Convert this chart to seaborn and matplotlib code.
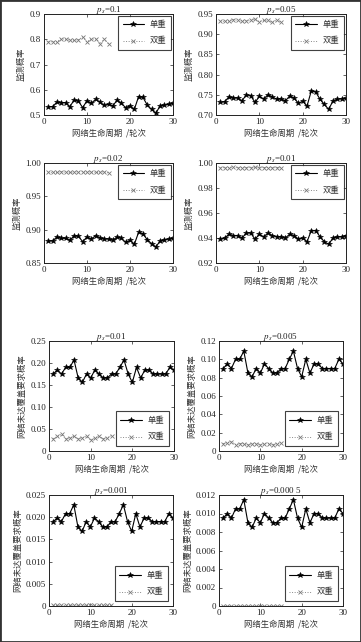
import matplotlib
matplotlib.use("Agg")
import matplotlib.pyplot as plt
import seaborn as sns
import pandas as pd
from matplotlib.font_manager import FontProperties
from matplotlib.patches import Rectangle

# ---------------- data ----------------
rounds_single = [1, 2, 3, 4, 5, 6, 7, 8, 9, 10, 11, 12, 13, 14, 15,
                 16, 17, 18, 19, 20, 21, 22, 23, 24, 25, 26, 27, 28, 29, 30]
rounds_double = [1, 2, 3, 4, 5, 6, 7, 8, 9, 10, 11, 12, 13, 14, 15]

titles = ["$p_s$=0.1", "$p_s$=0.05", "$p_s$=0.02", "$p_s$=0.01",
          "$p_s$=0.01", "$p_s$=0.005", "$p_s$=0.001", "$p_s$=0.000 5"]

single_01 = [0.533, 0.533, 0.551, 0.549, 0.549, 0.533, 0.559, 0.555, 0.529, 0.557,
             0.546, 0.562, 0.551, 0.538, 0.542, 0.536, 0.559, 0.546, 0.529, 0.536,
             0.522, 0.573, 0.570, 0.540, 0.522, 0.507, 0.536, 0.540, 0.542, 0.546]
double_01 = [0.790, 0.790, 0.790, 0.802, 0.800, 0.796, 0.796, 0.798, 0.808, 0.790,
             0.800, 0.802, 0.782, 0.800, 0.782]

single_005 = [0.731, 0.733, 0.745, 0.742, 0.742, 0.735, 0.750, 0.748, 0.731, 0.746,
              0.740, 0.750, 0.745, 0.739, 0.740, 0.735, 0.747, 0.742, 0.729, 0.734,
              0.722, 0.760, 0.757, 0.739, 0.726, 0.714, 0.735, 0.739, 0.740, 0.741]
double_005 = [0.932, 0.932, 0.933, 0.936, 0.934, 0.933, 0.933, 0.934, 0.937, 0.931,
              0.934, 0.934, 0.929, 0.935, 0.930]

single_002 = [0.883, 0.883, 0.889, 0.887, 0.887, 0.884, 0.891, 0.890, 0.882, 0.889,
              0.886, 0.891, 0.888, 0.886, 0.886, 0.884, 0.889, 0.887, 0.881, 0.884,
              0.878, 0.896, 0.894, 0.885, 0.879, 0.874, 0.883, 0.885, 0.886, 0.887]
double_002 = [0.986, 0.986, 0.986, 0.987, 0.986, 0.986, 0.986, 0.987, 0.987, 0.986,
              0.987, 0.986, 0.986, 0.987, 0.985]

single_001 = [0.939, 0.940, 0.943, 0.942, 0.942, 0.940, 0.944, 0.944, 0.939, 0.943,
              0.941, 0.944, 0.942, 0.941, 0.941, 0.940, 0.943, 0.942, 0.939, 0.940,
              0.937, 0.946, 0.946, 0.941, 0.937, 0.935, 0.940, 0.941, 0.941, 0.942]
double_001 = [0.9963, 0.9963, 0.9963, 0.9965, 0.9963, 0.9963, 0.9963, 0.9964, 0.9966, 0.9963,
              0.9964, 0.9964, 0.9962, 0.9964, 0.9962]

miss_single_001 = [0.175, 0.184, 0.175, 0.190, 0.190, 0.207, 0.166, 0.156, 0.175, 0.166,
                   0.184, 0.175, 0.166, 0.166, 0.175, 0.175, 0.190, 0.207, 0.175, 0.156,
                   0.190, 0.166, 0.184, 0.184, 0.175, 0.175, 0.175, 0.175, 0.190, 0.184]
miss_double_001 = [0.028, 0.033, 0.038, 0.028, 0.030, 0.033, 0.028, 0.030, 0.033, 0.025,
                   0.030, 0.033, 0.028, 0.030, 0.035]

miss_single_0005 = [0.090, 0.095, 0.090, 0.100, 0.100, 0.109, 0.085, 0.081, 0.090, 0.085,
                    0.095, 0.090, 0.085, 0.085, 0.090, 0.090, 0.100, 0.109, 0.090, 0.081,
                    0.100, 0.085, 0.095, 0.095, 0.090, 0.090, 0.090, 0.090, 0.100, 0.095]
miss_double_0005 = [0.008, 0.009, 0.010, 0.007, 0.008, 0.008, 0.007, 0.008, 0.008, 0.007,
                    0.008, 0.008, 0.007, 0.008, 0.009]

miss_single_0001 = [0.0190, 0.0198, 0.0190, 0.0208, 0.0208, 0.0228, 0.0178, 0.0168, 0.0190, 0.0178,
                    0.0198, 0.0190, 0.0178, 0.0178, 0.0190, 0.0190, 0.0208, 0.0228, 0.0190, 0.0168,
                    0.0208, 0.0178, 0.0198, 0.0198, 0.0190, 0.0190, 0.0190, 0.0190, 0.0208, 0.0198]
miss_double_0001 = [0.0003, 0.0003, 0.0003, 0.0003, 0.0003, 0.0003, 0.0003, 0.0003, 0.0003, 0.0003,
                    0.0003, 0.0003, 0.0003, 0.0003, 0.0003]

miss_single_00005 = [0.0095, 0.0100, 0.0095, 0.0105, 0.0105, 0.0115, 0.0090, 0.0085, 0.0095, 0.0090,
                     0.0100, 0.0095, 0.0090, 0.0090, 0.0095, 0.0095, 0.0105, 0.0115, 0.0095, 0.0085,
                     0.0105, 0.0090, 0.0100, 0.0100, 0.0095, 0.0095, 0.0095, 0.0095, 0.0105, 0.0100]
miss_double_00005 = [0.00003, 0.00003, 0.00003, 0.00003, 0.00003, 0.00003, 0.00003, 0.00003,
                     0.00003, 0.00003, 0.00003, 0.00003, 0.00003, 0.00003, 0.00003]

x_ticks = [0, 10, 20, 30]
x_ticklabels = ["0", "10", "20", "30"]

yticks_list = [
    [0.5, 0.6, 0.7, 0.8, 0.9],
    [0.70, 0.75, 0.80, 0.85, 0.90, 0.95],
    [0.85, 0.90, 0.95, 1.00],
    [0.92, 0.94, 0.96, 0.98, 1.00],
    [0, 0.05, 0.10, 0.15, 0.20, 0.25],
    [0, 0.02, 0.04, 0.06, 0.08, 0.10, 0.12],
    [0, 0.005, 0.010, 0.015, 0.020, 0.025],
    [0, 0.002, 0.004, 0.006, 0.008, 0.010, 0.012],
]
ytick_labels_list = [
    ["0.5", "0.6", "0.7", "0.8", "0.9"],
    ["0.70", "0.75", "0.80", "0.85", "0.90", "0.95"],
    ["0.85", "0.90", "0.95", "1.00"],
    ["0.92", "0.94", "0.96", "0.98", "1.00"],
    ["0", "0.05", "0.10", "0.15", "0.20", "0.25"],
    ["0", "0.02", "0.04", "0.06", "0.08", "0.10", "0.12"],
    ["0", "0.005", "0.010", "0.015", "0.020", "0.025"],
    ["0", "0.002", "0.004", "0.006", "0.008", "0.010", "0.012"],
]

series_labels = ["单重", "双重"]
xlabel_text = "网络生命周期  /轮次"
ylabel_top = "监测概率"
ylabel_bottom = "网络未达覆盖要求概率"

singles = [single_01, single_005, single_002, single_001,
           miss_single_001, miss_single_0005, miss_single_0001, miss_single_00005]
doubles = [double_01, double_005, double_002, double_001,
           miss_double_001, miss_double_0005, miss_double_0001, miss_double_00005]

# ---------------- style ----------------
sns.set_theme(style="white")
plt.rcParams["font.family"] = ["Liberation Serif", "Noto Sans CJK SC"]
plt.rcParams["mathtext.fontset"] = "stix"
cjk = FontProperties(family="Noto Sans CJK SC", size=6)

W, H = 361, 642
fig = plt.figure(figsize=(W / 100, H / 100), dpi=100)
fig.patch.set_facecolor("white")

# pixel boxes (x0, y0, x1, y1) from top-left
boxes = [
    (44, 14, 173, 115), (216, 14, 346, 115),
    (44, 163, 173, 263), (216, 163, 346, 263),
    (49, 341, 174, 451), (219, 341, 343, 451),
    (49, 495, 173, 606), (219, 495, 343, 606),
]

for i in range(8):
    x0, y0, x1, y1 = boxes[i]
    ax = fig.add_axes([x0 / W, 1 - y1 / H, (x1 - x0) / W, (y1 - y0) / H])
    df_s = pd.DataFrame({"x": rounds_single, "y": singles[i]})
    df_d = pd.DataFrame({"x": rounds_double, "y": doubles[i]})
    sns.lineplot(data=df_s, x="x", y="y", ax=ax, color="black", lw=0.8,
                 marker="*", markersize=3.8, markeredgewidth=0.4,
                 markeredgecolor="black", label=series_labels[0])
    sns.lineplot(data=df_d, x="x", y="y", ax=ax, color="#888888", lw=0.7,
                 linestyle=":", marker="x", markersize=2.5, markeredgewidth=0.6,
                 markeredgecolor="#777777", label=series_labels[1])
    yt = yticks_list[i]
    ax.set_xlim(0, 30)
    ax.set_ylim(yt[0], yt[-1])
    ax.set_xticks(x_ticks)
    ax.set_xticklabels(x_ticklabels)
    ax.set_yticks(yt)
    ax.set_yticklabels(ytick_labels_list[i])
    ax.tick_params(direction="in", length=2.5, width=0.5, labelsize=6.5,
                   colors="#222222", pad=2, top=True, right=True,
                   bottom=True, left=True)
    for sp in ax.spines.values():
        sp.set_color("#222222")
        sp.set_linewidth(0.7)
        sp.set_visible(True)
    ax.set_xlabel(xlabel_text, fontproperties=cjk, color="#333333", labelpad=2)
    ax.set_ylabel(ylabel_top if i < 4 else ylabel_bottom,
                  fontproperties=cjk, color="#333333", labelpad=3)
    ax.set_title(titles[i], fontsize=6.5, pad=1.5, color="#222222")
    if i < 4:
        leg = ax.legend(loc="upper right", prop=cjk, frameon=True, fancybox=False,
                        handlelength=2.6, borderaxespad=0.2, borderpad=0.55,
                        labelspacing=0.9, handletextpad=0.7)
    else:
        leg = ax.legend(loc="lower right", prop=cjk, frameon=True, fancybox=False,
                        handlelength=2.6, borderaxespad=0.6, borderpad=0.55,
                        labelspacing=0.9, handletextpad=0.7)
    leg.get_frame().set_edgecolor("#111111")
    leg.get_frame().set_linewidth(0.8)
    for t in leg.get_texts():
        t.set_color("#333333")

# image frame
fig.add_artist(Rectangle((0, 0), 1, 1, transform=fig.transFigure, fill=False,
                         edgecolor="#333333", linewidth=2))

fig.savefig("out.png", dpi=100)
